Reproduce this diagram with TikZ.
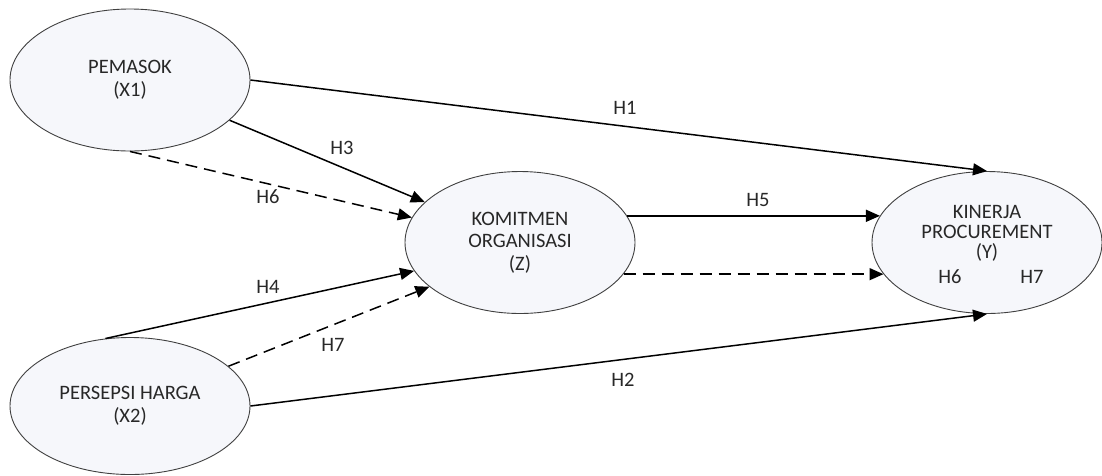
\documentclass[tikz,border=0pt]{standalone}
\usepackage{fontspec}
\setmainfont{Carlito}
\usetikzlibrary{shapes.geometric,arrows.meta}
\definecolor{ellfill}{RGB}{246,247,251}
\definecolor{txt}{RGB}{40,40,40}
\tikzset{
  var/.style={ellipse, draw=black!75, line width=0.9pt, fill=ellfill, minimum width=240pt, minimum height=142pt, inner sep=0pt, align=center, text=txt, font=\fontsize{20.5}{22.5}\selectfont},
  lab/.style={text=txt, font=\fontsize{20.5}{22}\selectfont, inner sep=1pt},
  conn/.style={line width=1.5pt, -{Triangle[length=14pt,width=12pt]}},
  dconn/.style={conn, dash pattern=on 12pt off 7pt}
}
\begin{document}
\begin{tikzpicture}[x=1pt,y=-1pt]
\useasboundingbox (0,0) rectangle (1102,475);
\node[var] (x1) at (130,80) {PEMASOK\\(X1)};
\node[var, minimum height=137pt] (x2) at (130,406) {PERSEPSI HARGA\\(X2)};
\node[var, minimum width=230pt] (z) at (520,242.5) {KOMITMEN\\ORGANISASI\\(Z)};
\node[var, minimum width=230pt] (y) at (987,242.5) {};
\node[lab, align=center, font=\fontsize{20.5}{20}\selectfont] (ytxt) at (987,233) {KINERJA\\PROCUREMENT\\(Y)};
\node[lab] (ly6) at (950,277) {H6};
\node[lab] (ly7) at (1032,277) {H7};

\draw[conn] (x1.east) -- (y.north);
\draw[conn] (x1.-22) -- (z.157);
\draw[dconn] (x1.south) -- (z.167);
\draw[conn] (x2.110) -- (z.195);
\draw[dconn] (x2.22) -- (z.206);
\draw[conn] (x2.east) -- (y.south);
\draw[conn] (z.14) -- (y.166);
\draw[dconn] (z.-17) -- (y.197);

\node[lab] (h1) at (625,108) {H1};
\node[lab] (h3) at (342,148) {H3};
\node[lab] (h6) at (268,197) {H6};
\node[lab] (h5) at (758,200) {H5};
\node[lab] (h4) at (268,287) {H4};
\node[lab] (h7) at (333,345) {H7};
\node[lab] (h2) at (623,380) {H2};
\end{tikzpicture}
\end{document}
